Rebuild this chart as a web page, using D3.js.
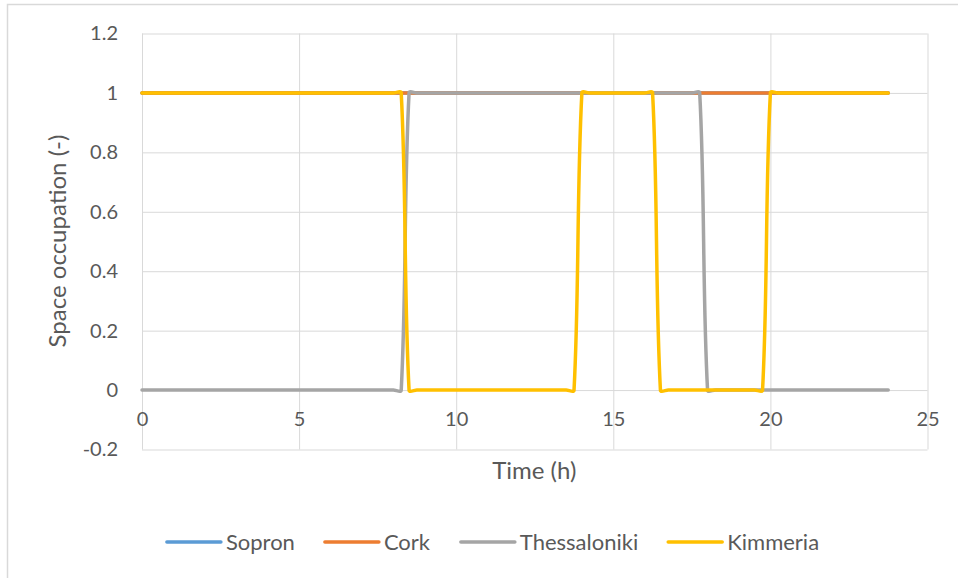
<!DOCTYPE html>
<html>
<head>
<meta charset="utf-8">
<script src="https://cdn.jsdelivr.net/npm/d3@7/dist/d3.min.js"></script>
<style>
  html, body { margin: 0; padding: 0; background: #ffffff; }
  svg { display: block; font-family: Lato, "Open Sans", "Liberation Sans", sans-serif; }
</style>
</head>
<body>
<svg id="chart" width="958" height="578"></svg>
<script>
// Time of day (h), quarter-hour steps
const hours = [
  0, 0.25, 0.5, 0.75, 1, 1.25, 1.5, 1.75, 2, 2.25, 2.5, 2.75, 3, 3.25, 3.5, 3.75,
  4, 4.25, 4.5, 4.75, 5, 5.25, 5.5, 5.75, 6, 6.25, 6.5, 6.75, 7, 7.25, 7.5, 7.75,
  8, 8.25, 8.5, 8.75, 9, 9.25, 9.5, 9.75, 10, 10.25, 10.5, 10.75, 11, 11.25, 11.5, 11.75,
  12, 12.25, 12.5, 12.75, 13, 13.25, 13.5, 13.75, 14, 14.25, 14.5, 14.75, 15, 15.25, 15.5, 15.75,
  16, 16.25, 16.5, 16.75, 17, 17.25, 17.5, 17.75, 18, 18.25, 18.5, 18.75, 19, 19.25, 19.5, 19.75,
  20, 20.25, 20.5, 20.75, 21, 21.25, 21.5, 21.75, 22, 22.25, 22.5, 22.75, 23, 23.25, 23.5, 23.75
];

// Space occupation per site (-)
const sopron = [
  1,1,1,1,1,1,1,1,1,1,1,1,1,1,1,1,
  1,1,1,1,1,1,1,1,1,1,1,1,1,1,1,1,
  1,1,1,1,1,1,1,1,1,1,1,1,1,1,1,1,
  1,1,1,1,1,1,1,1,1,1,1,1,1,1,1,1,
  1,1,1,1,1,1,1,1,1,1,1,1,1,1,1,1,
  1,1,1,1,1,1,1,1,1,1,1,1,1,1,1,1
];
const cork = [
  1,1,1,1,1,1,1,1,1,1,1,1,1,1,1,1,
  1,1,1,1,1,1,1,1,1,1,1,1,1,1,1,1,
  1,1,1,1,1,1,1,1,1,1,1,1,1,1,1,1,
  1,1,1,1,1,1,1,1,1,1,1,1,1,1,1,1,
  1,1,1,1,1,1,1,1,1,1,1,1,1,1,1,1,
  1,1,1,1,1,1,1,1,1,1,1,1,1,1,1,1
];
const thessaloniki = [
  0,0,0,0,0,0,0,0,0,0,0,0,0,0,0,0,
  0,0,0,0,0,0,0,0,0,0,0,0,0,0,0,0,
  0,0,1,1,1,1,1,1,1,1,1,1,1,1,1,1,
  1,1,1,1,1,1,1,1,1,1,1,1,1,1,1,1,
  1,1,1,1,1,1,1,1,0,0,0,0,0,0,0,0,
  0,0,0,0,0,0,0,0,0,0,0,0,0,0,0,0
];
const kimmeria = [
  1,1,1,1,1,1,1,1,1,1,1,1,1,1,1,1,
  1,1,1,1,1,1,1,1,1,1,1,1,1,1,1,1,
  1,1,0,0,0,0,0,0,0,0,0,0,0,0,0,0,
  0,0,0,0,0,0,0,0,1,1,1,1,1,1,1,1,
  1,1,0,0,0,0,0,0,0,0,0,0,0,0,0,0,
  1,1,1,1,1,1,1,1,1,1,1,1,1,1,1,1
];

const seriesNames = ["Sopron", "Cork", "Thessaloniki", "Kimmeria"];
const seriesValues = [sopron, cork, thessaloniki, kimmeria];
const seriesColors = ["#5B9BD5", "#ED7D31", "#A5A5A5", "#FFC000"];

const xTicks = [0, 5, 10, 15, 20, 25];
const yTicks = [-0.2, 0, 0.2, 0.4, 0.6, 0.8, 1, 1.2];

const textColor = "#595959";
const gridColor = "#D9D9D9";

// Smoothed line: tangent at each point follows its neighbours, handle length
// is a third of the segment, so short flat runs only get small hooks.
function curveSmooth(context) {
  let pts;
  return {
    areaStart() {}, areaEnd() {},
    lineStart() { pts = []; },
    point(px, py) { pts.push([+px, +py]); },
    lineEnd() {
      const n = pts.length;
      if (!n) return;
      const tan = pts.map((p, i) => {
        const a = pts[Math.max(0, i - 1)], b = pts[Math.min(n - 1, i + 1)];
        const dx = b[0] - a[0], dy = b[1] - a[1];
        const len = Math.hypot(dx, dy) || 1;
        return [dx / len, dy / len];
      });
      context.moveTo(pts[0][0], pts[0][1]);
      for (let i = 0; i < n - 1; i++) {
        const p = pts[i], q = pts[i + 1];
        const h = Math.hypot(q[0] - p[0], q[1] - p[1]) / 3;
        context.bezierCurveTo(
          p[0] + tan[i][0] * h, p[1] + tan[i][1] * h,
          q[0] - tan[i + 1][0] * h, q[1] - tan[i + 1][1] * h,
          q[0], q[1]);
      }
    }
  };
}

const svg = d3.select("#chart");

// outer chart frame
svg.append("rect")
  .attr("x", 7.5).attr("y", 4.5)
  .attr("width", 1200).attr("height", 1000)
  .attr("fill", "none")
  .attr("stroke", gridColor)
  .attr("stroke-width", 1.5);

const plot = { left: 142, right: 927.5, top: 33.5, bottom: 449.5 };

const x = d3.scaleLinear().domain([0, 25]).range([plot.left, plot.right]);
const y = d3.scaleLinear().domain([-0.2, 1.2]).range([plot.bottom, plot.top]);

// horizontal gridlines
svg.append("g")
  .attr("transform", `translate(${plot.left},0)`)
  .call(d3.axisLeft(y).tickValues(yTicks).tickSize(-(plot.right - plot.left)).tickFormat(""))
  .call(g => g.select(".domain").remove())
  .call(g => g.selectAll("line").attr("stroke", gridColor).attr("stroke-width", 1));

// vertical gridlines
svg.append("g")
  .attr("transform", `translate(0,${plot.bottom})`)
  .call(d3.axisBottom(x).tickValues(xTicks).tickSize(-(plot.bottom - plot.top)).tickFormat(""))
  .call(g => g.select(".domain").remove())
  .call(g => g.selectAll("line").attr("stroke", gridColor).attr("stroke-width", 1));

// y tick labels (plain hyphen for negatives)
svg.append("g")
  .attr("transform", `translate(${plot.left},0)`)
  .call(d3.axisLeft(y).tickValues(yTicks).tickSize(0).tickPadding(24)
    .tickFormat(d => String(+d.toFixed(1))))
  .call(g => g.select(".domain").remove())
  .call(g => g.selectAll("text")
    .attr("fill", textColor)
    .style("font-size", "20px")
    .attr("font-family", "Lato, 'Open Sans', sans-serif"));

// x tick labels, hung from the zero line
svg.append("g")
  .attr("transform", `translate(0,${y(0)})`)
  .call(d3.axisBottom(x).tickValues(xTicks).tickSize(0).tickPadding(22))
  .call(g => g.select(".domain").remove())
  .call(g => g.selectAll("text")
    .attr("fill", textColor)
    .style("font-size", "20px")
    .attr("font-family", "Lato, 'Open Sans', sans-serif"));

// series lines
const line = d3.line()
  .x((d, i) => x(hours[i]))
  .y(d => y(d))
  .curve(curveSmooth);

svg.append("g")
  .selectAll("path")
  .data(seriesValues)
  .join("path")
  .attr("d", d => line(d))
  .attr("fill", "none")
  .attr("stroke", (d, i) => seriesColors[i])
  .attr("stroke-width", 3.5)
  .attr("stroke-linejoin", "round")
  .attr("stroke-linecap", "round");

// axis titles
svg.append("text")
  .attr("x", (plot.left + plot.right) / 2 - 0.5)
  .attr("y", 479)
  .attr("text-anchor", "middle")
  .attr("fill", textColor)
  .style("font-size", "24px")
  .text("Time (h)");

svg.append("text")
  .attr("transform", `translate(66,${241}) rotate(-90)`)
  .attr("text-anchor", "middle")
  .attr("fill", textColor)
  .style("font-size", "24px")
  .text("Space occupation (-)");

// legend
const legend = svg.append("g");
const lineLen = 54, textGap = 5, itemGap = 30, legendY = 542;
const items = legend.selectAll("g")
  .data(seriesNames)
  .join("g");
items.append("line")
  .attr("x1", 0).attr("x2", lineLen)
  .attr("y1", 0).attr("y2", 0)
  .attr("stroke", (d, i) => seriesColors[i])
  .attr("stroke-width", 3.5)
  .attr("stroke-linecap", "round");
items.append("text")
  .attr("x", lineLen + textGap)
  .attr("dy", "0.35em")
  .attr("fill", textColor)
  .style("font-size", "22px")
  .text(d => d);

let widths = [];
items.each(function () { widths.push(this.getBBox().width); });
const total = d3.sum(widths) + itemGap * (widths.length - 1);
let cursor = 493 - total / 2;
items.attr("transform", (d, i) => {
  const t = `translate(${cursor},${legendY})`;
  cursor += widths[i] + itemGap;
  return t;
});
</script>
</body>
</html>
